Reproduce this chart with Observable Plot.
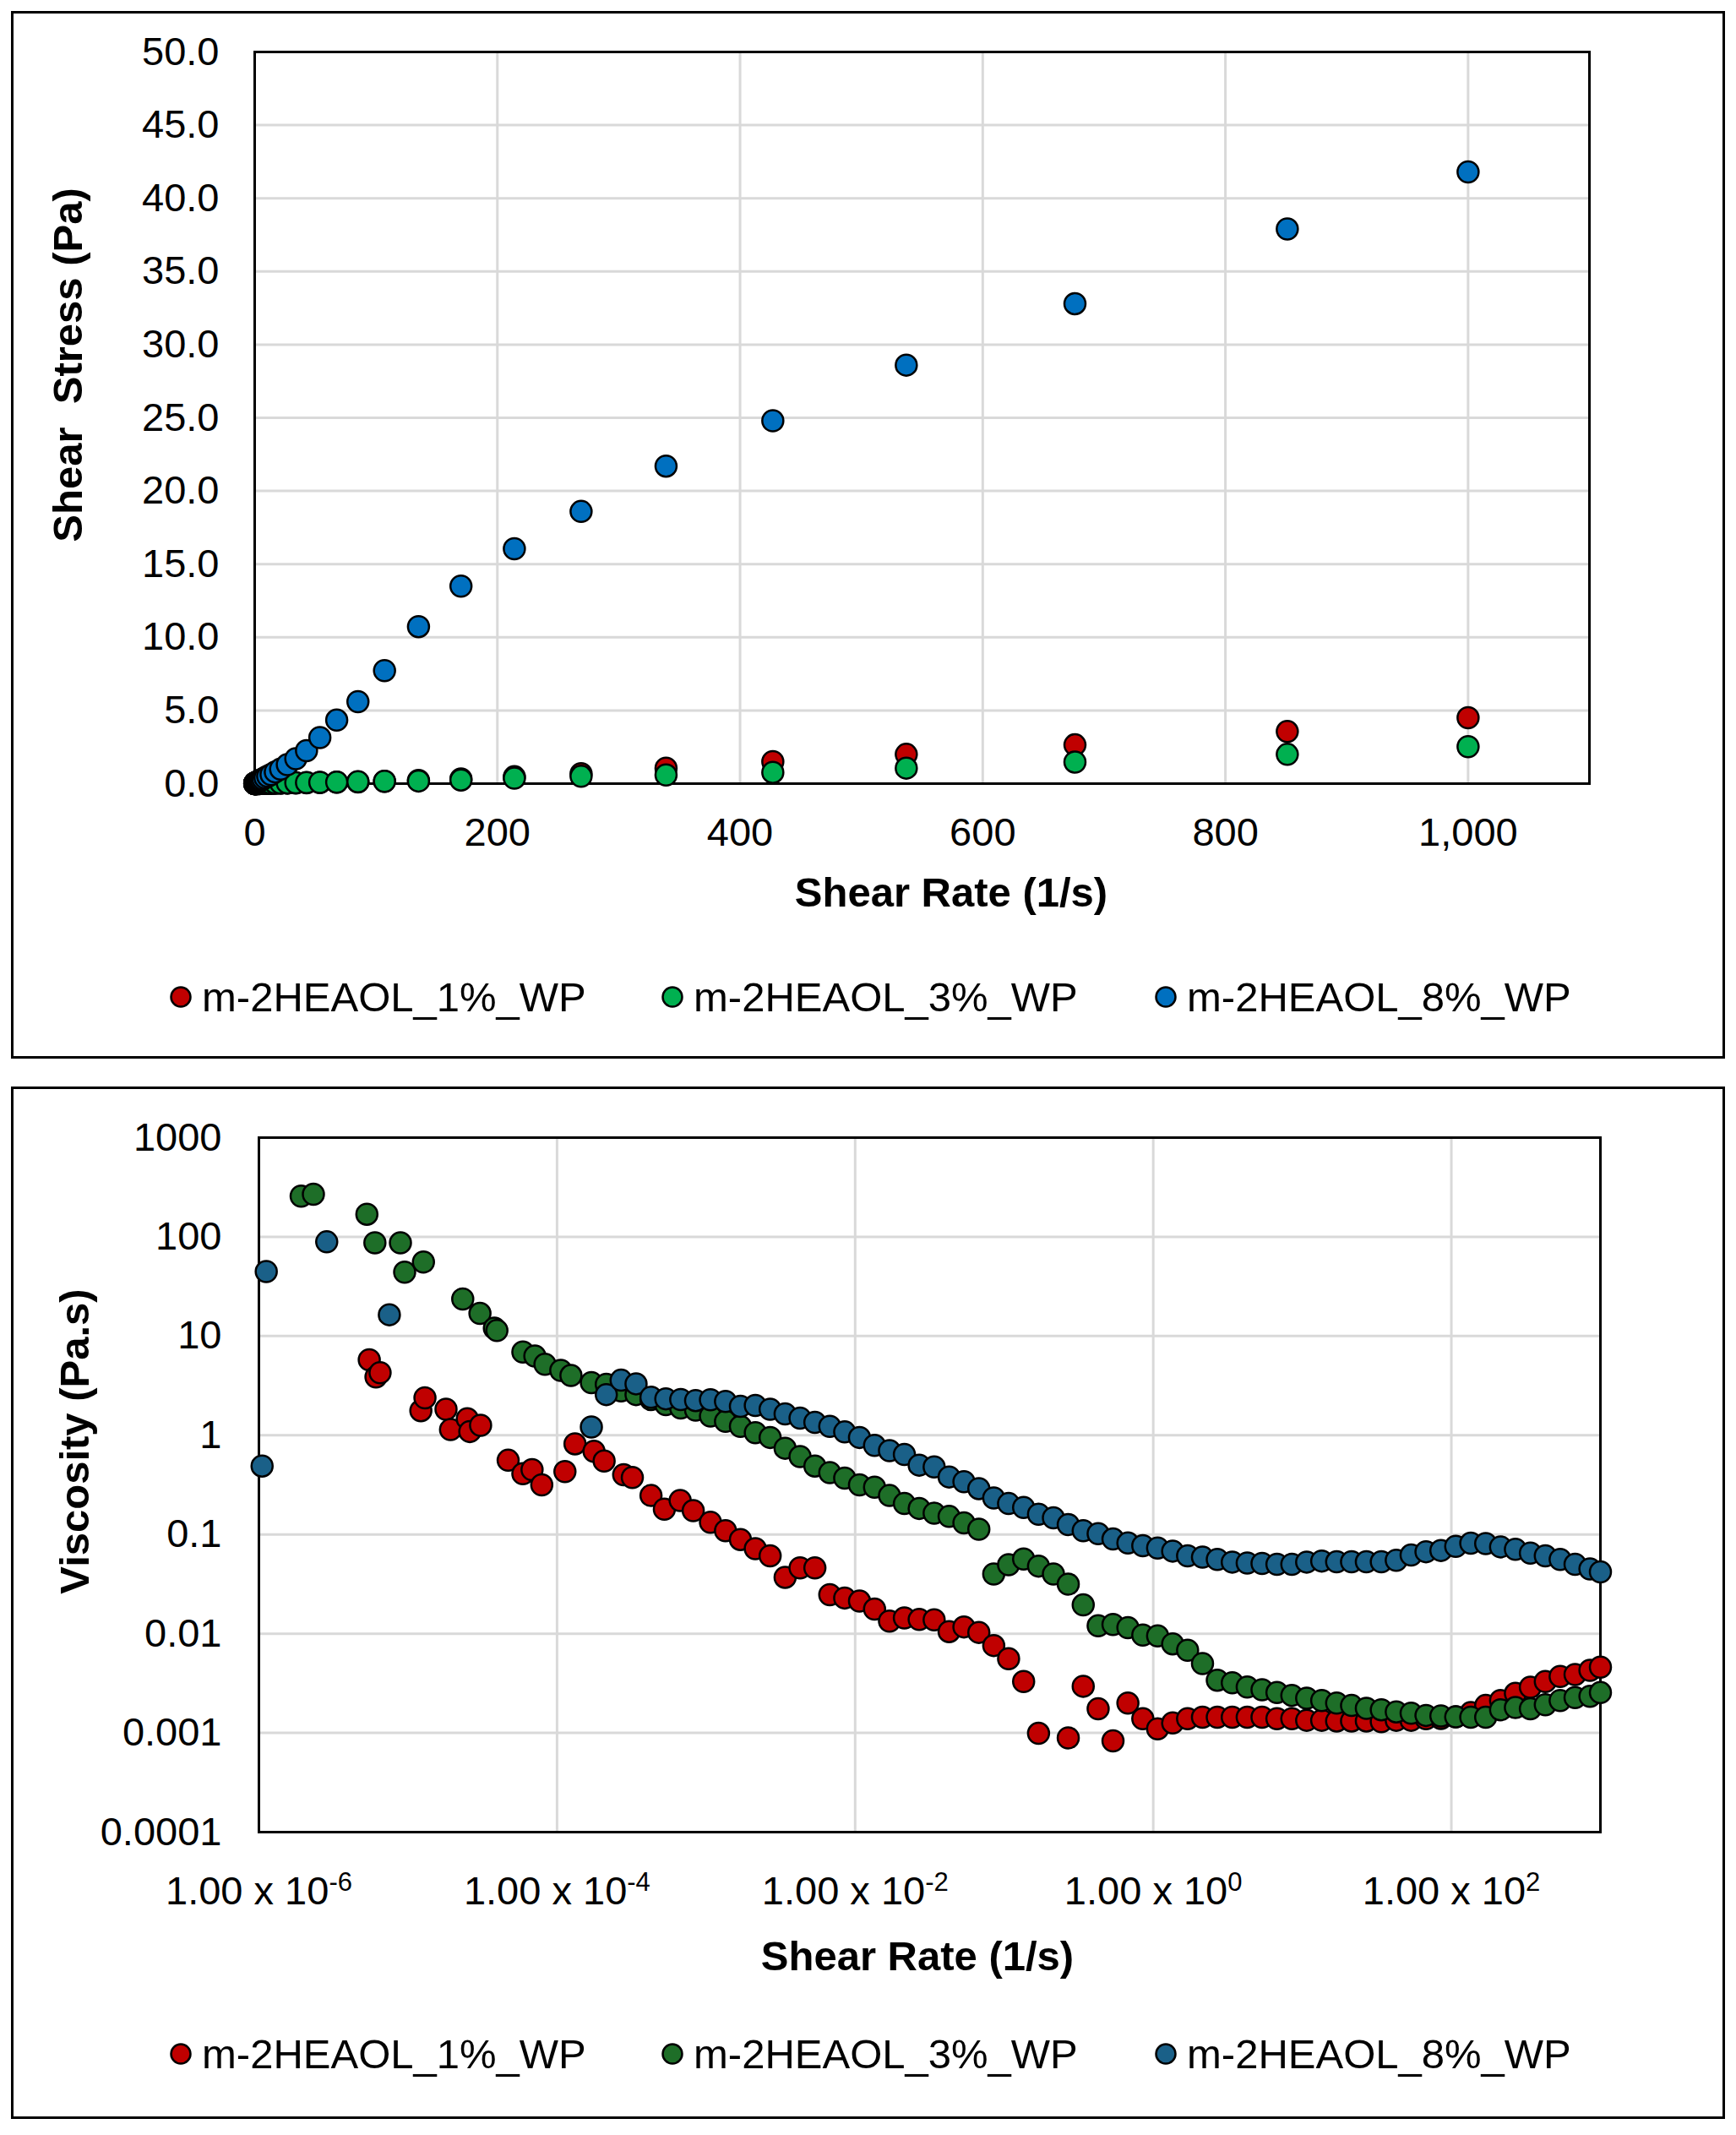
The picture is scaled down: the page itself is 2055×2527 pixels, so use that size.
<!DOCTYPE html>
<html><head><meta charset="utf-8">
<script src="https://cdn.jsdelivr.net/npm/d3@7"></script>
<script src="https://cdn.jsdelivr.net/npm/@observablehq/plot@0.6"></script>
<style>
body{margin:0;background:#fff;}
#page{position:relative;width:2055px;height:2527px;font-family:"Liberation Sans",Arial,sans-serif;color:#000;overflow:hidden;}
.box{position:absolute;border:3px solid #000;box-sizing:border-box;}
.title{position:absolute;font-weight:bold;font-size:49px;white-space:pre;line-height:1;transform:translate(-50%,-50%);}
.ytitle{transform:translate(-50%,-50%) rotate(-90deg);}
.item{position:absolute;display:flex;align-items:center;white-space:pre;font-size:49px;line-height:1;}
.chart{position:absolute;left:0;}
</style>
</head><body>
<div id="page"></div>
<script>
// ---------- shared ----------
const seriesNames = ["m-2HEAOL_1%_WP", "m-2HEAOL_3%_WP", "m-2HEAOL_8%_WP"];
const topColors = ["#C00000", "#00B050", "#0070C0"];
const bottomColors = ["#C00000", "#1E6E28", "#1A6088"];

// ---------- top chart: shear stress vs shear rate ----------
const stressRates = [0.107,0.135,0.170,0.214,0.269,0.339,0.427,0.537,0.676,0.851,
  1.07,1.35,1.70,2.14,2.69,3.39,4.27,5.37,6.76,8.51,
  10.7,13.5,17.0,21.4,26.9,33.9,42.7,53.7,67.6,85.1,
  107,135,170,214,269,339,427,537,676,851,1000];
const stress1 = [0.0006,0.0004,0.0002,0.0002,0.0002,0.001,0.0007,0.0004,0.0014,0.0012,
  0.0012,0.0017,0.0024,0.0031,0.0039,0.0049,0.0061,0.0077,0.0094,0.0118,
  0.0143,0.018,0.022,0.028,0.036,0.044,0.057,0.072,0.094,0.12,
  0.155,0.22,0.32,0.47,0.68,1.06,1.5,2.0,2.65,3.56,4.5];
const stress3 = [0.0053,0.0076,0.0082,0.0086,0.0085,0.0066,0.0051,0.0067,0.0078,0.0083,
  0.0102,0.0107,0.0116,0.0107,0.0091,0.0108,0.0124,0.0146,0.0172,0.0203,
  0.024,0.029,0.034,0.040,0.048,0.058,0.070,0.085,0.101,0.126,
  0.155,0.18,0.25,0.37,0.5,0.59,0.77,1.06,1.47,2.0,2.53];
const stress8 = [0.022,0.025,0.027,0.031,0.034,0.037,0.043,0.048,0.055,0.065,
  0.076,0.088,0.10,0.12,0.145,0.17,0.21,0.26,0.32,0.40,
  0.5,0.62,0.8,1.0,1.3,1.7,2.25,3.15,4.34,5.6,
  7.72,10.73,13.5,16.05,18.6,21.7,24.8,28.6,32.8,37.9,41.8];
const topXTicks = [0,200,400,600,800,1000];
const topYTicks = [0,5,10,15,20,25,30,35,40,45,50];

// ---------- bottom chart: viscosity vs shear rate ----------
const regularRates = [1.07e-3,1.35e-3,1.70e-3,2.14e-3,2.69e-3,3.39e-3,4.27e-3,5.37e-3,6.76e-3,8.51e-3,
  0.0107,0.0135,0.0170,0.0214,0.0269,0.0339,0.0427,0.0537,0.0676,0.0851,
  0.107,0.135,0.170,0.214,0.269,0.339,0.427,0.537,0.676,0.851,
  1.07,1.35,1.70,2.14,2.69,3.39,4.27,5.37,6.76,8.51,
  10.7,13.5,17.0,21.4,26.9,33.9,42.7,53.7,67.6,85.1,
  107,135,170,214,269,339,427,537,676,851,1000];

const lowRates1 = [5.5e-6,6.1e-6,6.5e-6,1.22e-5,1.3e-5,1.8e-5,1.93e-5,2.5e-5,2.6e-5,3.07e-5,
  4.7e-5,5.9e-5,6.8e-5,7.9e-5,1.13e-4,1.32e-4,1.77e-4,2.07e-4,2.8e-4,3.2e-4,
  4.27e-4,5.25e-4,6.7e-4,8.2e-4];
const lowVisc1 = [5.75,3.87,4.27,1.77,2.38,1.83,1.14,1.47,1.09,1.26,
  0.56,0.41,0.45,0.316,0.43,0.82,0.69,0.55,0.40,0.376,
  0.247,0.18,0.22,0.174];
const visc1 = [0.133,0.109,0.089,0.072,0.061,0.037,0.046,0.046,0.0247,0.0229,
  0.0213,0.0177,0.0134,0.0144,0.0139,0.0138,0.0105,0.0117,0.0103,0.0076,
  0.0056,0.0033,0.00099,null,0.00089,0.00295,0.00175,0.00083,0.002,0.00139,
  0.0011,0.00126,0.00139,0.00144,0.00144,0.00144,0.00144,0.00144,0.00139,0.00139,
  0.00134,0.00134,0.00132,0.00132,0.00132,0.0013,0.00134,0.00134,0.00139,0.0014,
  0.00145,0.0016,0.00189,0.00212,0.0025,0.00289,0.0033,0.00371,0.00388,0.00428,
  0.0046];

const lowRates3 = [1.92e-6,2.32e-6,5.3e-6,6.0e-6,8.9e-6,9.5e-6,1.27e-5,2.33e-5,3.04e-5,3.8e-5,
  3.95e-5,5.9e-5,7.1e-5,8.3e-5,1.06e-4,1.24e-4,1.70e-4,2.14e-4,2.69e-4,3.39e-4,
  4.27e-4,5.37e-4,6.76e-4,8.51e-4];
const lowVisc3 = [257,269,169,87,87,44,55.8,23.6,16.9,12,
  11.4,6.9,6.3,5.2,4.5,4.0,3.39,3.26,2.8,2.57,
  2.29,2.04,1.88,1.79];
const visc3 = [1.56,1.38,1.23,1.06,0.95,0.74,0.61,0.49,0.42,0.37,
  0.316,0.30,0.247,0.205,0.183,0.164,0.152,0.131,0.113,0.040,
  0.0495,0.0566,0.048,0.040,0.0316,0.0195,0.012,0.0124,0.0115,0.0097,
  0.0095,0.0079,0.0068,0.005,0.0034,0.0032,0.0029,0.00272,0.00255,0.00239,
  0.00224,0.00212,0.002,0.00189,0.00177,0.00171,0.00163,0.00158,0.0015,0.00148,
  0.00145,0.00144,0.00144,0.00171,0.0018,0.00175,0.00192,0.00212,0.00227,0.00234,
  0.00255];

const lowRates8 = [1.05e-6,1.12e-6,2.85e-6,7.5e-6,1.70e-4,2.14e-4,2.69e-4,3.39e-4,4.27e-4,5.37e-4,6.76e-4,8.51e-4];
const lowVisc8 = [0.49,44.7,89,16.4,1.21,2.57,3.59,3.3,2.42,2.33,2.29,2.24];
const visc8 = [2.28,2.19,1.96,2.0,1.83,1.64,1.49,1.35,1.23,1.08,
  0.95,0.79,0.70,0.64,0.50,0.48,0.38,0.34,0.29,0.233,
  0.205,0.187,0.16,0.147,0.126,0.109,0.102,0.09,0.082,0.077,
  0.073,0.068,0.061,0.059,0.056,0.0527,0.0516,0.051,0.050,0.050,
  0.0527,0.054,0.053,0.053,0.053,0.053,0.055,0.062,0.067,0.069,
  0.076,0.0816,0.081,0.075,0.0708,0.0649,0.061,0.056,0.05,0.045,
  0.042];

const botXTicks = [1e-6,1e-4,1e-2,1,100];
const botXLabels = ["1.00 x 10^-6","1.00 x 10^-4","1.00 x 10^-2","1.00 x 10^0","1.00 x 10^2"];
const botYTicks = [1e-4,1e-3,1e-2,1e-1,1,10,100,1000];
const botYLabels = ["0.0001","0.001","0.01","0.1","1","10","100","1000"];

// ---------- build tables ----------
const topData = [stress1, stress3, stress8].map(arr => stressRates.map((r, i) => ({rate: r, value: arr[i]})));
function bottomSeries(lr, lv, rv) {
  return lr.map((r, i) => ({rate: r, value: lv[i]}))
    .concat(regularRates.map((r, i) => ({rate: r, value: rv[i]})))
    .filter(d => d.value != null);
}
const botData = [bottomSeries(lowRates1, lowVisc1, visc1), bottomSeries(lowRates3, lowVisc3, visc3), bottomSeries(lowRates8, lowVisc8, visc8)];

const page = document.getElementById("page");
const FONT = "'Liberation Sans', Arial, sans-serif";
const grid = {stroke: "#D9D9D9", strokeOpacity: 1, strokeWidth: 3};
const dotOpts = (c) => ({x: "rate", y: "value", r: 12.5, fill: c, stroke: "#000", strokeWidth: 2.5});

// ---------- top plot ----------
const topPlot = Plot.plot({
  width: 2055, height: 1270,
  marginLeft: 301, marginRight: 174, marginTop: 61, marginBottom: 343,
  style: {fontFamily: FONT, fontSize: "47px", background: "transparent", color: "#000", overflow: "visible"},
  x: {domain: [0, 1100], label: null},
  y: {domain: [0, 50], label: null},
  marks: [
    Plot.gridX(topXTicks.slice(1), grid),
    Plot.gridY(topYTicks.slice(1, -1), grid),
    Plot.frame({stroke: "#000", strokeWidth: 3}),
    Plot.axisX(topXTicks, {tickSize: 0, tickPadding: 40, tickFormat: d3.format(","), label: null, fill: "#000"}),
    Plot.axisY(topYTicks, {tickSize: 0, tickPadding: 42, tickFormat: d3.format(".1f"), label: null, fill: "#000"}),
    ...topData.map((d, i) => Plot.dot(d, dotOpts(topColors[i])))
  ]
});
topPlot.classList.add("chart");
topPlot.style.top = "0px";
page.appendChild(topPlot);

// ---------- bottom plot ----------
const xLab = new Map(botXTicks.map((t, i) => [t, botXLabels[i]]));
const yLab = new Map(botYTicks.map((t, i) => [t, botYLabels[i]]));
const botPlot = Plot.plot({
  width: 2055, height: 1257,
  marginLeft: 306, marginRight: 161, marginTop: 76, marginBottom: 359,
  style: {fontFamily: FONT, fontSize: "47px", background: "transparent", color: "#000", overflow: "visible"},
  x: {type: "log", domain: [1e-6, 1e3], label: null},
  y: {type: "log", domain: [1e-4, 1e3], label: null},
  marks: [
    Plot.gridX(botXTicks.slice(1), grid),
    Plot.gridY(botYTicks.slice(1, -1), grid),
    Plot.frame({stroke: "#000", strokeWidth: 3}),
    Plot.axisX(botXTicks, {tickSize: 0, tickPadding: 52, tickFormat: d => xLab.get(d), label: null, fill: "#000"}),
    Plot.axisY(botYTicks, {tickSize: 0, tickPadding: 44, tickFormat: d => yLab.get(d), label: null, fill: "#000"}),
    ...botData.map((d, i) => Plot.dot(d, dotOpts(bottomColors[i])))
  ]
});
botPlot.classList.add("chart");
botPlot.style.top = "1270px";
page.appendChild(botPlot);

// superscript exponents on the bottom x tick labels
botPlot.querySelectorAll('[aria-label="x-axis tick label"] text').forEach(t => {
  const parts = t.textContent.split("^");
  if (parts.length < 2) return;
  while (t.firstChild) t.removeChild(t.firstChild);
  t.appendChild(document.createTextNode(parts[0]));
  const ts = document.createElementNS("http://www.w3.org/2000/svg", "tspan");
  ts.setAttribute("font-size", "31");
  ts.setAttribute("dy", "-16");
  ts.textContent = parts[1];
  t.appendChild(ts);
});

// ---------- frames, titles, legends ----------
function box(l, t, r, b) {
  const d = document.createElement("div");
  d.className = "box";
  Object.assign(d.style, {left: l + "px", top: t + "px", width: (r - l) + "px", height: (b - t) + "px"});
  page.appendChild(d);
}
function title(text, cx, cy, vertical) {
  const d = document.createElement("div");
  d.className = "title" + (vertical ? " ytitle" : "");
  d.textContent = text;
  Object.assign(d.style, {left: cx + "px", top: cy + "px"});
  page.appendChild(d);
}
function legend(colors, cy) {
  const xs = [214, 796, 1380];
  seriesNames.forEach((name, i) => {
    const it = document.createElement("div");
    it.className = "item";
    Object.assign(it.style, {left: (xs[i] - 13) + "px", top: (cy - 25) + "px", height: "50px"});
    it.innerHTML = `<svg width="26" height="26" style="margin-right:12px;overflow:visible"><circle cx="13" cy="13" r="11.5" fill="${colors[i]}" stroke="#000" stroke-width="2.5"/></svg><span>${name}</span>`;
    page.appendChild(it);
  });
}
box(13, 13, 2042, 1253);
box(13, 1286, 2042, 2508);
title("Shear Rate (1/s)", 1126, 1056, false);
title("Shear  Stress (Pa)", 80, 432, true);
title("Shear Rate (1/s)", 1086, 2315, false);
title("Viscosity (Pa.s)", 88, 1706, true);
legend(topColors, 1180);
legend(bottomColors, 2431);
</script>
</body></html>
